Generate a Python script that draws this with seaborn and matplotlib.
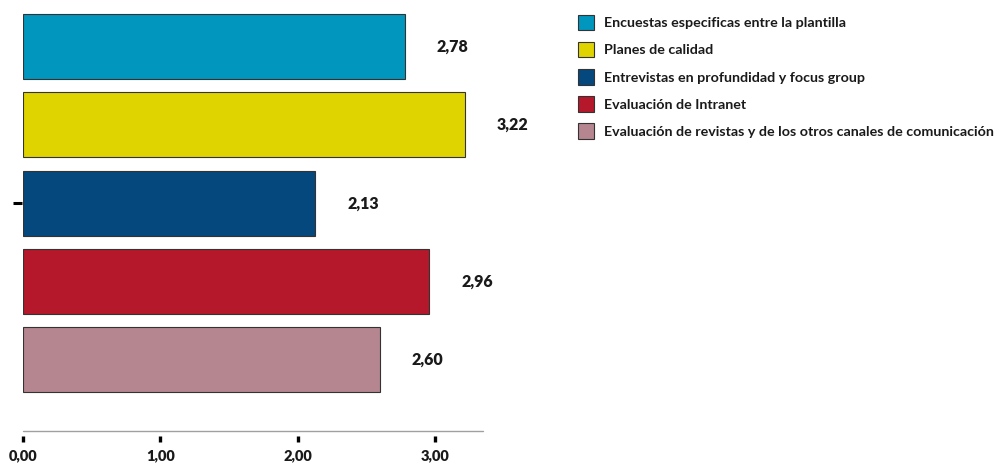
import matplotlib
matplotlib.use("Agg")
import matplotlib.pyplot as plt
import matplotlib.patches as mpatches
from matplotlib.lines import Line2D
import seaborn as sns
import pandas as pd

categorias = [
    "Encuestas especificas entre la plantilla",
    "Planes de calidad",
    "Entrevistas en profundidad y focus group",
    "Evaluación de Intranet",
    "Evaluación de revistas y de los otros canales de comunicación",
]
valores = [2.78, 3.22, 2.13, 2.96, 2.60]
colores = ["#0096BE", "#E0D400", "#05487D", "#B5182A", "#B5868F"]
ticks_x = [0, 1, 2, 3]
etiquetas_x = ["0,00", "1,00", "2,00", "3,00"]

sns.set_theme(style="white")
plt.rcParams["font.family"] = ["Lato", "DejaVu Sans"]
# every text element of this chart is set in bold
plt.rcParams["font.weight"] = "bold"

df = pd.DataFrame({"medio": categorias, "valor": valores})

fig = plt.figure(figsize=(9.99, 4.65), dpi=100)
ax = fig.add_axes([0.023, 0.073, 0.4605, 0.916])

sns.barplot(data=df, y="medio", x="valor", hue="medio", palette=colores,
            order=categorias, hue_order=categorias, orient="h", width=0.83,
            saturation=1, edgecolor="#333333", linewidth=0.8, legend=False,
            ax=ax)

ax.set_xlim(0, 3.35)
ax.set_ylim(4.91, -0.53)
ax.set_xlabel("")
ax.set_ylabel("")

# value labels to the right of each bar
for i, v in enumerate(valores):
    ax.annotate(f"{v:.2f}".replace(".", ","), xy=(v, i), xytext=(23, 0),
                textcoords="offset points", ha="left", va="center",
                fontsize=11.5, fontweight="heavy", color="#1a1a1a",
                annotation_clip=False)

# spines are positioned first: moving a spine resets its axis ticks
ax.spines["bottom"].set_position(("outward", 3.5))
ax.spines["left"].set_position(("outward", 1))
for side in ["top", "right", "left", "bottom"]:
    ax.spines[side].set_visible(False)

# thin grey baseline, ticks hang slightly below it
ax.add_line(Line2D([0, 1], [0, 0], transform=ax.transAxes, color="#a0a0a0",
                   linewidth=1.0, clip_on=False))

ax.set_xticks(ticks_x)
ax.xaxis.set_ticks_position("bottom")
ax.tick_params(axis="x", direction="out", length=4.5, width=2.4, color="black",
               pad=5, bottom=True, labelsize=10.5, labelcolor="#1a1a1a")
ax.set_xticklabels(etiquetas_x)

ax.set_yticks([2])
ax.set_yticklabels([""])
ax.yaxis.set_ticks_position("left")
ax.tick_params(axis="y", direction="out", length=6.5, width=2.2, color="black",
               pad=0, left=True)

handles = [mpatches.Patch(facecolor=c, edgecolor="#333333", linewidth=0.8)
           for c in colores]
leg = fig.legend(handles, categorias, loc="upper left",
                 bbox_to_anchor=(575 / 999, 1 - 12 / 465),
                 frameon=False, fontsize=10.3, handlelength=1.15,
                 handleheight=1.3, handletextpad=0.7, labelspacing=0.8,
                 borderpad=0.2, borderaxespad=0)
for t in leg.get_texts():
    t.set_fontweight("bold")
    t.set_color("#1a1a1a")

# heavier weight for the axis numbers, applied once the ticks are final
fig.canvas.draw()
plt.setp(ax.get_xticklabels(), fontweight="heavy", fontsize=10.5)

fig.savefig("out.png", dpi=100)
